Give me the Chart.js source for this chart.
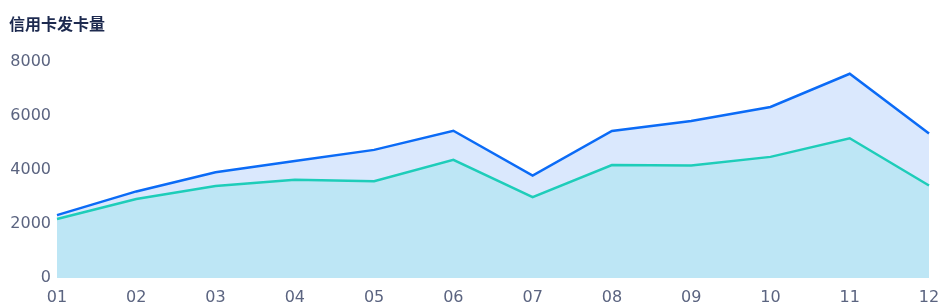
<!DOCTYPE html>
<html>
<head>
<meta charset="utf-8">
<script src="https://cdn.jsdelivr.net/npm/chart.js@4"></script>
<style>
html,body{margin:0;padding:0;background:#fff;}
#wrap{width:944px;height:305px;position:relative;}
</style>
</head>
<body>
<div id="wrap"><canvas id="c" width="944" height="305"></canvas></div>
<script>
const titleText = '信用卡发卡量';
const months = ['01','02','03','04','05','06','07','08','09','10','11','12'];
const seriesTotal = [2330, 3210, 3920, 4340, 4750, 5460, 3800, 5450, 5820, 6340, 7570, 5360];
const seriesActive = [2190, 2930, 3410, 3640, 3590, 4380, 3000, 4190, 4170, 4490, 5180, 3430];
const yTicks = [0, 2000, 4000, 6000, 8000];

const ctx = document.getElementById('c').getContext('2d');
new Chart(ctx, {
  type: 'line',
  data: {
    labels: months,
    datasets: [
      {
        label: 'active',
        data: seriesActive,
        borderColor: '#1ecdb9',
        backgroundColor: '#bde6f5',
        borderWidth: 2.5,
        fill: 'origin',
        pointRadius: 0,
        tension: 0
      },
      {
        label: 'total',
        data: seriesTotal,
        borderColor: '#0b6bf6',
        backgroundColor: '#dae8fd',
        borderWidth: 2.5,
        fill: '-1',
        pointRadius: 0,
        tension: 0
      }
    ]
  },
  options: {
    responsive: false,
    animation: false,
    devicePixelRatio: 1,
    layout: { padding: { left: 9, right: 15, top: 0, bottom: 0 } },
    plugins: {
      legend: { display: false },
      tooltip: { enabled: false },
      title: {
        display: true,
        text: titleText,
        align: 'start',
        color: '#1d2a4f',
        font: { family: '"Noto Sans CJK SC", sans-serif', size: 16, weight: 'bold', lineHeight: 1.2 },
        padding: { top: 14, bottom: 29 }
      },
      filler: { propagate: false }
    },
    scales: {
      x: {
        offset: false,
        afterFit: s => { s.height = 27; s.paddingRight = 0; s.paddingLeft = 0; },
        grid: { display: false, drawTicks: false },
        border: { display: false },
        ticks: {
          color: '#5b6480',
          font: { family: '"DejaVu Sans", sans-serif', size: 16 },
          padding: 10,
          maxRotation: 0,
          autoSkip: false
        }
      },
      y: {
        min: 0,
        max: 8000,
        afterBuildTicks: s => { s.ticks = yTicks.map(v => ({ value: v })); },
        afterFit: s => { s.width = 48; s.paddingTop = 0; s.paddingBottom = 0; },
        grid: { display: false, drawTicks: false },
        border: { display: false },
        ticks: {
          color: '#5b6480',
          font: { family: '"DejaVu Sans", sans-serif', size: 16 },
          padding: 6,
          callback: v => String(v)
        }
      }
    }
  }
});
</script>
</body>
</html>
